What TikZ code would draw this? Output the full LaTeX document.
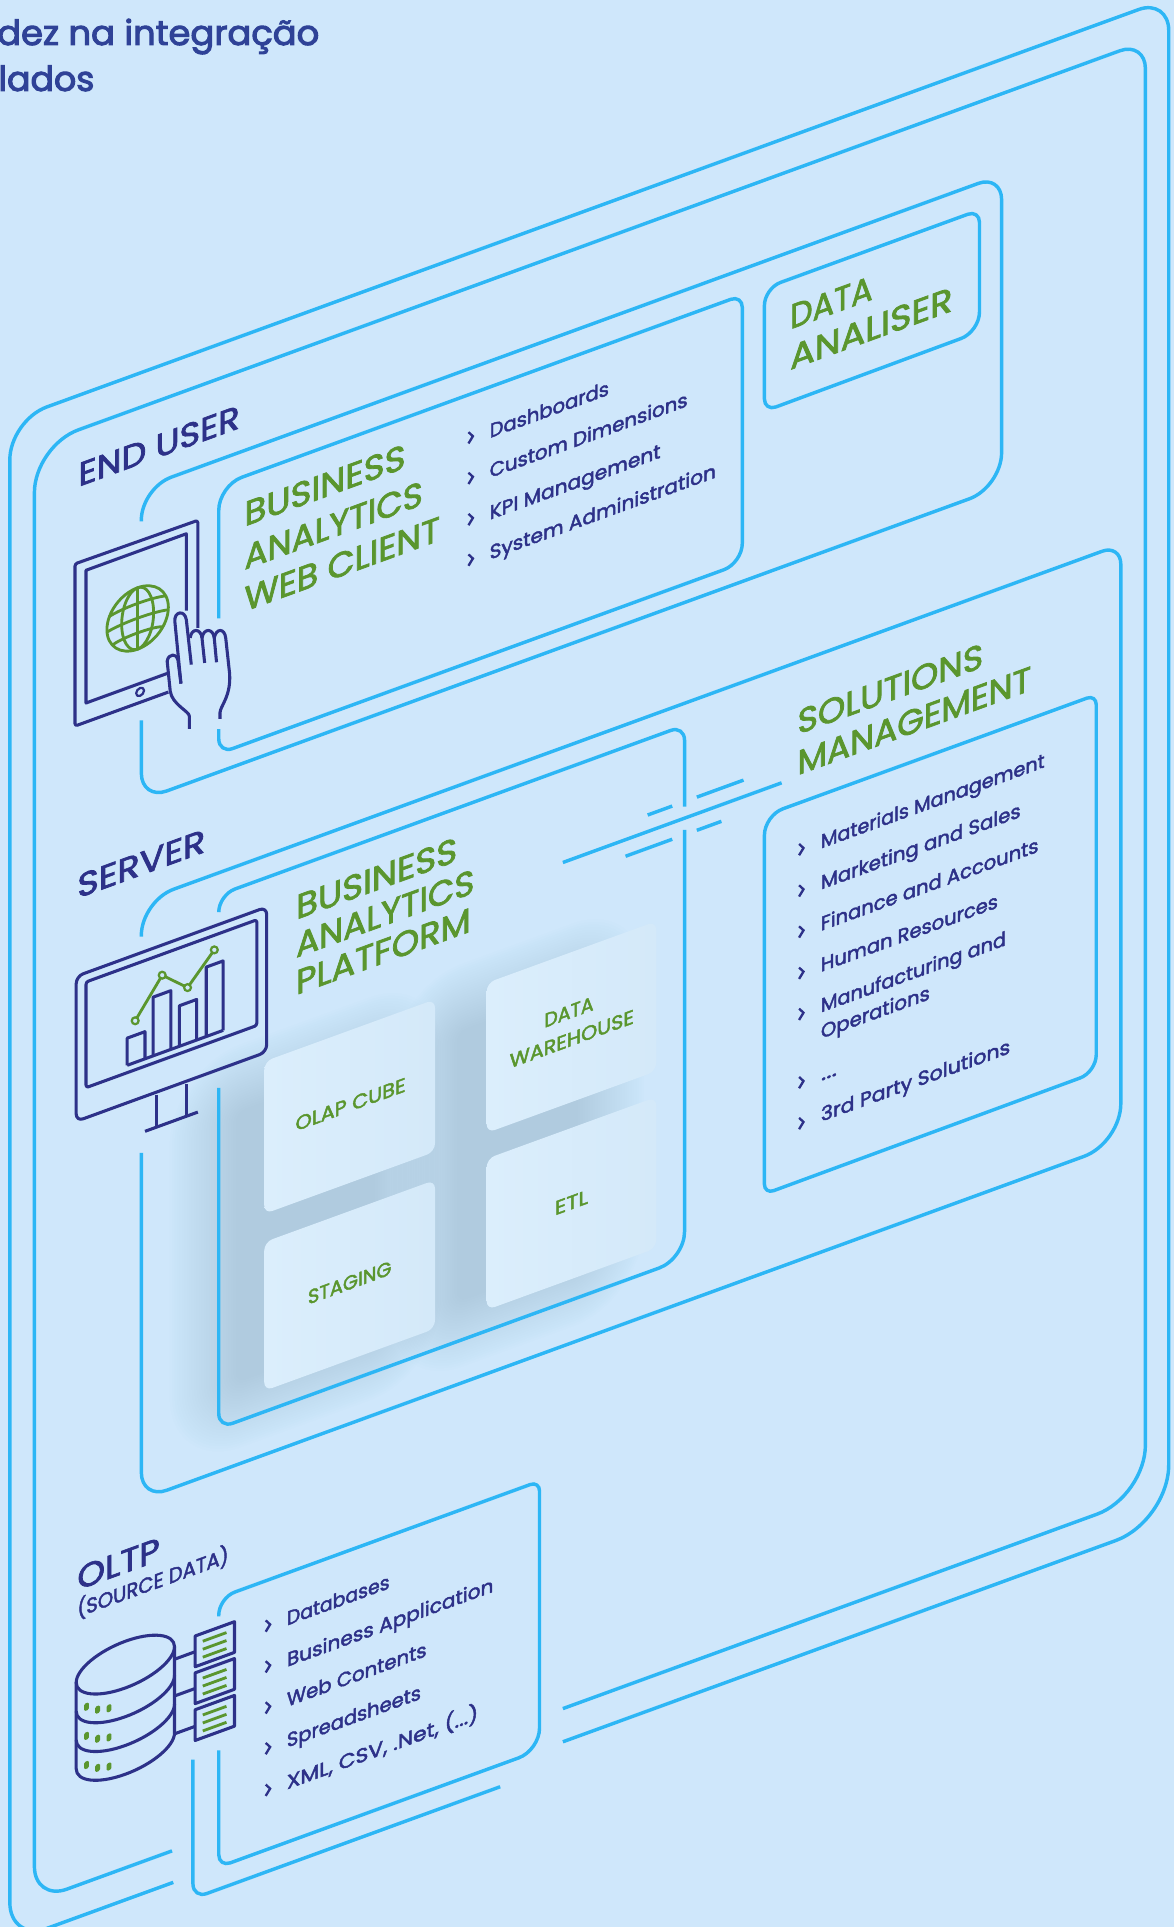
\documentclass[tikz,border=0pt]{standalone}
\usepackage{fontspec}
\usepackage{graphicx}
\setmainfont{Poppins}[FakeBold=2.2]
\newfontfamily\titlefont{Poppins}[FakeBold=3]
\definecolor{bgc}{HTML}{CFE7FB}
\definecolor{linec}{HTML}{2DB6F5}
\definecolor{navyc}{HTML}{2D3189}
\definecolor{greenc}{HTML}{5A962E}
\definecolor{titlec}{HTML}{2F4297}
\definecolor{cardl}{HTML}{DBEEFC}
\definecolor{cardr}{HTML}{D4E9F9}
\definecolor{shadc}{HTML}{7595C0}
\tikzset{
 fr/.style={draw=linec,line width=2.8pt,line cap=butt},
 nv/.style={draw=navyc,line width=2.5pt,line join=round},
 gr/.style={draw=greenc,line width=2.3pt},
 txt/.style={anchor=base west,inner sep=0pt,outer sep=0pt,transform shape},
 chev/.style={draw=navyc,line width=1.9pt,line join=miter}
}
% scaled to a given width
\newcommand{\fitw}[2]{\resizebox{#1pt}{\height}{#2}}
\newcommand{\stxt}[7]{\node[txt,text=#5] (#1) at (#2,#3) {\fontsize{#4}{#4}\selectfont\fitw{#6}{#7}};}
\newcommand{\bul}[2]{\draw[chev] (#1-1.8,#2-4.6) -- (#1+1.8,#2) -- (#1-1.8,#2+4.6);}
\newcommand{\cardshadow}[4]{\foreach \r in {54,52,...,0}{\pgfmathsetmacro{\cr}{8+\r}\fill[shadc,opacity=.013,rounded corners=\cr pt] (#1-\r,#3-\r) rectangle (#2+\r,#4+\r);}}
\newcommand{\cardbox}[4]{\shade[left color=cardl,right color=cardr,rounded corners=7pt] (#1,#3) rectangle (#2,#4);}
\begin{document}
\begin{tikzpicture}[x=1pt,y=-1pt]
\useasboundingbox (0,0) rectangle (955,1568);
\fill[bgc] (0,0) rectangle (955,1568);
\clip (0,0) rectangle (955,1568);
% title
\node[anchor=base east,inner sep=0pt,text=titlec] (t1) at (260,36.6) {\titlefont\fontsize{28}{28}\selectfont\fitw{262}{dez na integração}};
\node[anchor=base east,inner sep=0pt,text=titlec] (t2) at (77,74) {\titlefont\fontsize{28}{28}\selectfont\fitw{78}{lados}};
\begin{scope}[cm={1,0.364,0,1,(0,0)}]
% shadows
\cardshadow{192}{305}{975}{1195}
\cardshadow{372}{470}{975}{1195}
% frames
\draw[fr] (141,1583) [rounded corners=32pt] -- (8,1583) [rounded corners=32pt] -- (8,345) [rounded corners=26pt] -- (951,345) [rounded corners=46pt] -- (951,1584) -- (458,1584);
\draw[fr] (140,1557) [rounded corners=28pt] -- (28,1557) [rounded corners=38pt] -- (28,373) [rounded corners=22pt] -- (932,373) [rounded corners=42pt] -- (932,1557) -- (458,1557);
\draw[fr] (115,466) [rounded corners=26pt] -- (115,439) [rounded corners=20pt] -- (815,439) [rounded corners=28pt] -- (815,693) [rounded corners=22pt] -- (115,693) -- (115,628);
\draw[fr] (178,568) [rounded corners=20pt] -- (178,460) [rounded corners=10pt] -- (604,460) [rounded corners=16pt] -- (604,678) [rounded corners=12pt] -- (178,678) -- (178,658);
\draw[fr,rounded corners=10pt] (622,561) [rounded corners=14pt] -- (622,461) [rounded corners=10pt] -- (797,461) [rounded corners=16pt] -- (797,560) [rounded corners=10pt] -- cycle;
\draw[fr] (115,804) [rounded corners=28pt] -- (115,775) [rounded corners=16pt] -- (912,775) [rounded corners=32pt] -- (912,1262) [rounded corners=22pt] -- (115,1262) -- (115,980);
\draw[fr] (178,807) [rounded corners=14pt] -- (178,793) [rounded corners=12pt] -- (557,793) -- (557,859);
\draw[fr] (557,878) [rounded corners=22pt] -- (557,1227) [rounded corners=12pt] -- (178,1227) -- (178,950);
\draw[fr] (622,1198) [rounded corners=16pt] -- (622,890) [rounded corners=8pt] -- (892,890) [rounded corners=14pt] -- (892,1197) [rounded corners=8pt] -- cycle;
\draw[fr] (458,868.5) -- (636,868.5);
\draw[fr] (527,855) -- (547,855);
\draw[fr] (567,855) -- (605,855);
\draw[fr] (509,882) -- (547,882);
\draw[fr] (567,882) -- (587,882);
\draw[fr] (178,1380) [rounded corners=14pt] -- (178,1365) [rounded corners=8pt] -- (439,1365) [rounded corners=18pt] -- (439,1584) [rounded corners=10pt] -- (178,1584) -- (178,1489);
\draw[fr] (157,1489) [rounded corners=12pt] -- (157,1602) -- (407,1602);
% cards
\cardbox{215}{354}{942}{1066}
\cardbox{215}{354}{1089}{1210}
\cardbox{396}{534}{944}{1066}
\cardbox{396}{534}{1087}{1210}
% headings
\stxt{eu}{64}{419.3}{27}{navyc}{131}{END USER}
\stxt{sv}{63}{754}{27}{navyc}{104}{SERVER}
\stxt{ol}{63}{1317}{27}{navyc}{67}{OLTP}
\stxt{sd}{63}{1339}{17}{navyc}{123}{(SOURCE DATA)}
\stxt{w1}{199}{500.8}{28}{greenc}{131}{BUSINESS}
\stxt{w2}{199}{536}{28}{greenc}{145}{ANALYTICS}
\stxt{w3}{199}{570}{28}{greenc}{159}{WEB CLIENT}
\stxt{da1}{643}{502}{28}{greenc}{67}{DATA}
\stxt{da2}{643}{535}{28}{greenc}{132}{ANALISER}
\stxt{p1}{241}{836}{28}{greenc}{131}{BUSINESS}
\stxt{p2}{241}{867}{28}{greenc}{145}{ANALYTICS}
\stxt{p3}{241}{897.3}{28}{greenc}{142}{PLATFORM}
\stxt{s1}{649}{834}{28}{greenc}{151}{SOLUTIONS}
\stxt{s2}{649}{867}{28}{greenc}{190}{MANAGEMENT}
% list web client
\stxt{a1}{398.5}{501.5}{16}{navyc}{97}{Dashboards}
\stxt{a2}{398.5}{534}{16}{navyc}{161}{Custom Dimensions}
\stxt{a3}{398.5}{568}{16}{navyc}{139}{KPI Management}
\stxt{a4}{398.5}{600.5}{16}{navyc}{184}{System Administration}
\bul{383}{495}\bul{383}{528}\bul{383}{561.5}\bul{383}{594.5}
% solutions list
\stxt{b1}{668}{933.6}{16}{navyc}{182}{Materials Management}
\stxt{b2}{668}{967}{16}{navyc}{162.5}{Marketing and Sales}
\stxt{b3}{668}{1000.6}{16}{navyc}{177}{Finance and Accounts}
\stxt{b4}{668}{1034}{16}{navyc}{144}{Human Resources}
\stxt{b5}{668}{1067}{16}{navyc}{150.5}{Manufacturing and}
\stxt{b6}{668}{1088.4}{16}{navyc}{88.6}{Operations}
\stxt{b7}{668}{1122.7}{16}{navyc}{13}{...}
\stxt{b8}{668}{1156}{16}{navyc}{154}{3rd Party Solutions}
\bul{652}{928}\bul{652}{961.6}\bul{652}{995}\bul{652}{1028.6}\bul{652}{1062}\bul{652}{1117.6}\bul{652}{1150.9}
% card text
\stxt{c1}{240.5}{1008.1}{16}{greenc}{89.5}{OLAP CUBE}
\stxt{c2}{443}{997.6}{16}{greenc}{40}{DATA}
\stxt{c3}{414.8}{1020.3}{16}{greenc}{101}{WAREHOUSE}
\stxt{c4}{250.6}{1152.8}{16}{greenc}{68}{STAGING}
\stxt{c5}{451.5}{1153.3}{16}{greenc}{27}{ETL}
% oltp list
\stxt{d1}{233.5}{1407.7}{16}{navyc}{83.5}{Databases}
\stxt{d2}{233.5}{1441.3}{16}{navyc}{168}{Business Application}
\stxt{d3}{233.5}{1473.8}{16}{navyc}{113.6}{Web Contents}
\stxt{d4}{233.5}{1507}{16}{navyc}{109}{Spreadsheets}
\stxt{d5}{233.5}{1541}{16}{navyc}{155.6}{XML, CSV, .Net, (...)}
\bul{218}{1401.8}\bul{218}{1435}\bul{218}{1468.4}\bul{218}{1501.5}\bul{218}{1535.4}
% tablet
\draw[nv,rounded corners=2pt] (161,569.6) -- (161,482) -- (61,481) -- (61,613) -- (137,613);
\draw[nv] (151.6,552) -- (151.6,489.5) -- (70,489.5) -- (70,597.5) -- (136,597.5);
\draw[nv,line width=1.8pt] (114,604.5) circle [x radius=3.2,y radius=3.2];
% globe
\begin{scope}[every path/.append style={gr}]
\draw (112,544) circle [radius=25];
\draw (112,544) ellipse [x radius=13,y radius=25];
\draw (112,519) -- (112,569);
\draw (89,534) .. controls (100,531) and (124,531) .. (135,534);
\draw (87,546) .. controls (100,543) and (124,543) .. (137,546);
\draw (92,558) .. controls (100,555) and (124,555) .. (132,558);
\end{scope}
% monitor
\draw[nv,rounded corners=6pt] (62,817) rectangle (217,935);
\draw[nv,rounded corners=2pt] (70,824.5) rectangle (209,910.5);
\draw[nv] (127,937) -- (127,963.5);
\draw[nv] (151.5,937) -- (151.5,963.5);
\draw[nv] (118,963.5) -- (161,963.5);
\draw[nv] (103.5,904.5) -- (181.6,904.5);
\draw[nv] (103.5,904.5) -- (103.5,882.4) -- (118,882.4) -- (118,904.5);
\draw[nv] (124.6,904.5) -- (124.6,856.7) -- (139,856.7) -- (139,904.5);
\draw[nv] (146,904.5) -- (146,871.5) -- (160,871.5) -- (160,904.5);
\draw[nv] (167.8,904.5) -- (167.8,848) -- (181.6,848) -- (181.6,904.5);
% documents
\foreach \t/\n in {1389/1,1419/2,1449/3}{
 \draw[nv] (158.8,\t) rectangle (190.8,\t+25);
 \draw[gr] (165,\t+6.5) -- (184.3,\t+6.5);
 \draw[gr] (165,\t+13) -- (184.3,\t+13);
 \draw[gr] (165,\t+19.5) -- (184.3,\t+19.5);
}
\draw[nv] (141.6,1401.8) -- (158.8,1401.8);
\draw[nv] (141.6,1431.7) -- (158.8,1431.7);
\draw[nv] (141.6,1462.5) -- (158.8,1462.5);
% database
\draw[nv] (102,1391.6) ellipse [x radius=40,y radius=19];
\draw[nv] (62,1391.6) -- (62,1461.8) arc[start angle=180,end angle=0,x radius=40,y radius=19] -- (142,1391.6);
\draw[nv] (62,1415) arc[start angle=180,end angle=0,x radius=40,y radius=19];
\draw[nv] (62,1438.4) arc[start angle=180,end angle=0,x radius=40,y radius=19];
\foreach \dv in {0,23.7,47.4}{
 \foreach \du/\ov in {70.4/1414.4,79.4/1420,88.7/1422.3}{
  \fill[greenc,rounded corners=1.2pt] (\du-2,\ov+\dv-3) rectangle (\du+2,\ov+\dv+3);
 }
}
\end{scope}
% hand over the tablet, in canvas coordinates
\begin{scope}[yshift=-309pt,x=0.3113pt,y=-0.2711pt]
\draw[nv] (473,912) -- (465,840) .. controls (463,822) and (440,820) .. (437,845) -- (445,935) .. controls (450,975) and (495,995) .. (495,1010) -- (495,1048);
\draw[nv] (473,912) -- (457,725) .. controls (455,695) and (483,690) .. (487,720) -- (500,855);
\draw[nv] (497,775) .. controls (500,745) and (525,745) .. (528,775) -- (535,850);
\draw[nv] (528,775) .. controls (532,745) and (557,745) .. (560,775) -- (566,848);
\draw[nv] (560,775) .. controls (565,745) and (587,745) .. (590,775) -- (600,880) .. controls (605,950) and (575,980) .. (575,1000) -- (575,1018);
\end{scope}
% chart line
\begin{scope}
\draw[gr] (110,830.6) -- (132,793.5) -- (152.6,803.6) -- (174.4,772.9);
\foreach \px/\py in {110/830.6,132/793.5,152.6/803.6,174.4/772.9}{
 \draw[gr,fill=bgc,line width=1.8pt] (\px,\py) circle [radius=2.8];
}
\end{scope}
\end{tikzpicture}
\end{document}
